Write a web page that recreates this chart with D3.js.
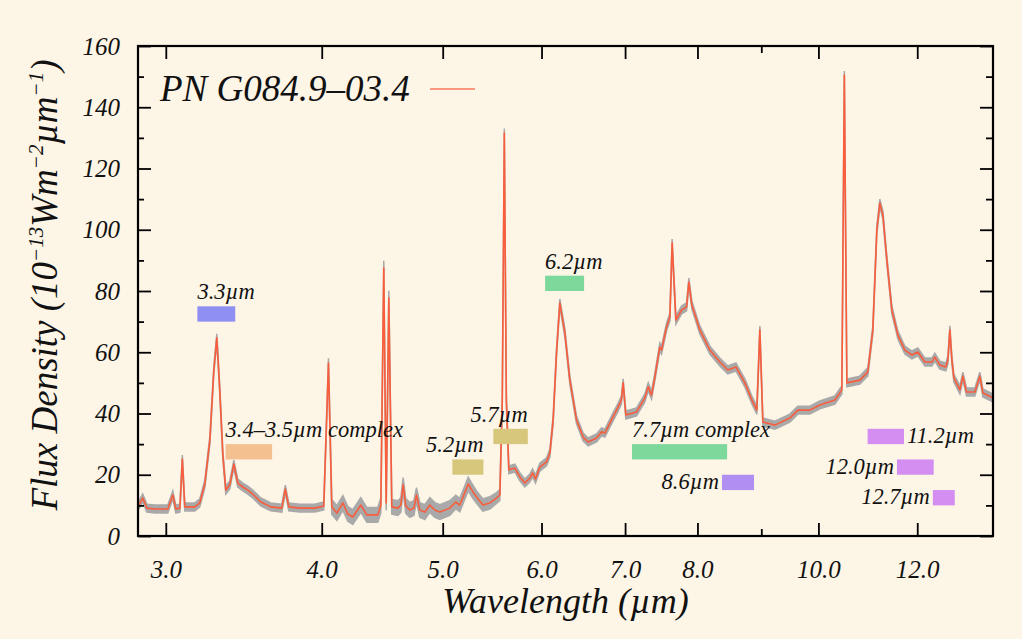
<!DOCTYPE html>
<html><head><meta charset="utf-8">
<script src="https://cdn.jsdelivr.net/npm/d3@7"></script>
<style>html,body{margin:0;padding:0;background:#fdf5e6;} svg{display:block;}</style>
</head><body><svg id="c" width="1022" height="639"></svg>
<script>
// ---------- data ----------
const wavelength = [
2.849,2.875,2.897,2.940,3.011,3.039,3.056,3.079,3.093,3.107,
3.165,3.194,3.224,3.254,3.278,3.296,3.314,3.333,3.351,3.376,
3.401,3.426,3.458,3.490,3.522,3.575,3.641,3.716,3.740,3.764,
3.841,3.949,4.015,4.050,4.075,4.113,4.159,4.197,4.236,4.299,
4.347,4.436,4.461,4.485,4.505,4.527,4.552,4.603,4.628,4.648,
4.671,4.706,4.741,4.764,4.793,4.838,4.883,4.928,4.974,5.066,
5.122,5.160,5.199,5.241,5.276,5.322,5.385,5.454,5.522,5.556,
5.581,5.602,5.623,5.649,5.712,5.765,5.818,5.872,5.902,5.934,
5.981,6.056,6.093,6.130,6.168,6.206,6.264,6.322,6.400,6.479,
6.539,6.641,6.703,6.744,6.827,6.911,6.952,6.975,7.010,7.150,
7.260,7.305,7.350,7.395,7.463,7.487,7.556,7.603,7.635,7.688,
7.769,7.841,7.874,7.918,8.035,8.185,8.337,8.461,8.588,8.731,
8.845,8.926,8.976,9.026,9.228,9.487,9.627,9.843,10.026,10.308,
10.442,10.490,10.539,10.794,10.955,11.056,11.138,11.200,11.263,11.346,
11.451,11.579,11.729,11.882,12.014,12.170,12.328,12.396,12.511,12.651,
12.698,12.745,12.792,12.839,12.983,13.054,13.143,13.346,13.469,13.545,
13.796];
const flux = [
9.5,12.4,9.1,8.8,8.8,13.4,8.8,9.1,25.1,9.5,
9.5,10.8,17.0,31.3,54.2,64.7,47.7,26.4,15.0,16.7,
23.5,17.3,16.0,15.0,13.7,11.1,9.5,9.1,15.3,9.5,
9.1,9.1,9.8,56.5,9.5,7.5,10.8,7.2,6.2,10.1,
6.9,6.9,10.1,87.5,10.8,77.7,9.5,9.1,10.1,16.7,
9.8,8.5,9.1,13.4,8.5,7.8,10.1,8.5,7.8,9.1,
11.1,10.1,13.4,17.0,15.0,12.7,10.1,10.8,12.4,13.4,
44.4,131.6,44.4,21.6,22.2,19.3,17.3,18.9,20.6,18.6,
22.5,24.2,27.1,37.9,59.8,76.1,66.3,50.9,37.9,32.3,
30.7,32.0,34.0,33.6,37.9,42.1,44.4,50.0,39.5,40.5,
45.1,48.7,46.0,51.9,61.7,60.7,68.2,71.5,95.7,70.5,
73.8,74.8,82.9,75.4,67.3,60.7,56.8,54.2,55.2,50.0,
44.4,41.1,67.3,37.2,36.2,38.5,41.1,41.1,42.8,44.4,
47.7,150.5,50.0,50.9,53.6,67.3,99.9,108.7,104.8,90.1,
73.8,65.6,60.7,59.1,60.1,56.8,56.8,58.4,55.8,55.2,
57.5,67.3,57.5,51.6,47.7,52.2,47.0,47.0,52.2,46.7,
45.1];
const fluxErr = [
1.3,1.3,1.3,1.3,1.3,1.3,1.3,1.3,1.3,1.3,
1.3,1.3,1.3,1.3,1.3,1.3,1.3,1.3,1.3,1.3,
1.3,1.3,1.3,1.3,1.3,1.3,1.3,1.3,1.3,1.3,
1.3,1.3,1.3,1.5,2.4,2.4,2.4,2.4,2.4,2.4,
2.4,2.4,2.4,2.4,2.4,2.4,2.4,2.4,2.4,2.4,
2.4,2.4,2.4,2.4,2.4,2.4,2.4,2.4,2.4,2.4,
2.2,2.2,2.2,2.2,2.2,2.0,2.0,2.0,1.8,1.8,
1.5,1.5,1.5,1.3,1.3,1.3,1.3,1.3,1.3,1.3,
1.3,1.3,1.3,1.3,1.3,1.3,1.3,1.3,1.3,1.3,
1.3,1.3,1.3,1.3,1.3,1.3,1.3,1.3,1.3,1.3,
1.3,1.3,1.3,1.3,1.3,1.3,1.3,1.3,1.3,1.3,
1.3,1.3,1.3,1.3,1.3,1.3,1.3,1.3,1.3,1.3,
1.3,1.3,1.3,1.3,1.3,1.3,1.3,1.3,1.3,1.3,
1.3,1.3,1.3,1.3,1.3,1.3,1.3,1.3,1.3,1.3,
1.3,1.3,1.3,1.3,1.3,1.3,1.3,1.3,1.3,1.3,
1.3,1.3,1.3,1.3,1.3,1.3,1.3,1.3,1.3,1.3,
1.3];

const xTicks = [3, 4, 5, 6, 7, 8, 10, 12];
const xMinorTicks = [9];
const yTicks = [0, 20, 40, 60, 80, 100, 120, 140, 160];
const yMinorTicks = [10, 30, 50, 70, 90, 110, 130, 150];

const bandNames  = ["3.3µm","3.4–3.5µm complex","5.2µm","5.7µm","6.2µm","7.7µm complex","8.6µm","11.2µm","12.0µm","12.7µm"];
const bandFrom   = [3.18, 3.35, 5.09, 5.49, 6.04, 7.09, 8.37, 10.95, 11.56, 12.35];
const bandTo     = [3.41, 3.65, 5.39, 5.85, 6.49, 8.45, 8.88, 11.71, 12.37, 12.86];
const bandLow    = [70, 25, 20, 30, 80, 25, 15, 30, 20, 10];
const bandHigh   = [75, 30, 25, 35, 85, 30, 20, 35, 25, 15];
const bandColors = ["#8f8ff3","#f5c08f","#d6c77c","#d6c77c","#7dd89c","#7dd89c","#b18ff2","#d48ef2","#d48ef2","#d48ef2"];
const bandLabelSide = ["top-start","top-start","top-end","top-end","top-start","top-start","left","right","left","left"];

const seriesName = "PN G084.9–03.4";

// ---------- chart ----------
const W = 1022, H = 639;
const m = {l:138, r:29, t:46, b:103};
const FONT = "'Liberation Serif', 'Times New Roman', serif";
const LINE = "#fa5d3c";

const svg = d3.select("#c");
svg.append("rect").attr("width", W).attr("height", H).attr("fill", "#fdf5e6");

const x = d3.scaleLog().domain([2.85, 13.8]).range([m.l, W - m.r]);
const y = d3.scaleLinear().domain([0, 160]).range([H - m.b, m.t]);

const data = wavelength.map((w, i) => ({w, f: flux[i], e: fluxErr[i]}));

svg.append("clipPath").attr("id", "clip").append("rect")
  .attr("x", m.l).attr("y", m.t).attr("width", W - m.l - m.r).attr("height", H - m.t - m.b);

const plot = svg.append("g").attr("clip-path", "url(#clip)");

plot.append("path").datum(data)
  .attr("fill", "#a9a9a9").attr("stroke", "#a9a9a9").attr("stroke-width", 1.5)
  .attr("d", d3.area().x(d => x(d.w)).y0(d => y(d.f - d.e)).y1(d => y(d.f + d.e)));

plot.append("path").datum(data)
  .attr("fill", "none").attr("stroke", LINE).attr("stroke-width", 1.6)
  .attr("stroke-linejoin", "round")
  .attr("d", d3.line().x(d => x(d.w)).y(d => y(d.f)));

// bands
const bands = bandNames.map((n, i) => ({n, x0: bandFrom[i], x1: bandTo[i], lo: bandLow[i], hi: bandHigh[i], c: bandColors[i], side: bandLabelSide[i]}));
const bg = svg.append("g");
bg.selectAll("rect").data(bands).join("rect")
  .attr("x", d => x(d.x0)).attr("width", d => x(d.x1) - x(d.x0))
  .attr("y", d => y(d.hi)).attr("height", d => y(d.lo) - y(d.hi))
  .attr("fill", d => d.c);
bg.selectAll("text").data(bands).join("text")
  .attr("font-family", FONT).attr("font-style", "italic").attr("font-size", 22.5).attr("fill", "#111")
  .attr("x", d => d.side === "top-start" ? x(d.x0) : d.side === "top-end" ? x(d.x1) : d.side === "left" ? x(d.x0) - 3 : x(d.x1) + 3)
  .attr("y", d => (d.side === "top-start" || d.side === "top-end") ? y(d.hi) - 7 : y(d.lo) - 1)
  .attr("text-anchor", d => (d.side === "top-end" || d.side === "left") ? "end" : "start")
  .text(d => d.n);

// axes
function styleAxis(g) {
  g.select(".domain").remove();
  g.selectAll(".tick line").attr("stroke", "#000").attr("stroke-width", 1.8);
  g.selectAll(".tick text").attr("font-family", FONT).attr("font-style", "italic").attr("font-size", 25).attr("fill", "#111");
}
svg.append("g").attr("transform", `translate(0,${H - m.b})`)
  .call(d3.axisBottom(x).tickValues(xTicks).tickFormat(d3.format(".1f")).tickSizeInner(-13).tickSizeOuter(0).tickPadding(24))
  .call(styleAxis);
svg.append("g").attr("transform", `translate(0,${H - m.b})`)
  .call(d3.axisBottom(x).tickValues(xMinorTicks).tickFormat("").tickSizeInner(-7).tickSizeOuter(0))
  .call(styleAxis);
svg.append("g").attr("transform", `translate(0,${m.t})`)
  .call(d3.axisTop(x).tickValues(xTicks).tickFormat("").tickSizeInner(-13).tickSizeOuter(0))
  .call(styleAxis);
svg.append("g").attr("transform", `translate(0,${m.t})`)
  .call(d3.axisTop(x).tickValues(xMinorTicks).tickFormat("").tickSizeInner(-7).tickSizeOuter(0))
  .call(styleAxis);
svg.append("g").attr("transform", `translate(${m.l},0)`)
  .call(d3.axisLeft(y).tickValues(yTicks).tickFormat(d3.format("d")).tickSizeInner(-13).tickSizeOuter(0).tickPadding(18))
  .call(styleAxis);
svg.append("g").attr("transform", `translate(${m.l},0)`)
  .call(d3.axisLeft(y).tickValues(yMinorTicks).tickFormat("").tickSizeInner(-6).tickSizeOuter(0))
  .call(styleAxis);
svg.append("g").attr("transform", `translate(${W - m.r},0)`)
  .call(d3.axisRight(y).tickValues(yTicks).tickFormat("").tickSizeInner(-13).tickSizeOuter(0))
  .call(styleAxis);
svg.append("g").attr("transform", `translate(${W - m.r},0)`)
  .call(d3.axisRight(y).tickValues(yMinorTicks).tickFormat("").tickSizeInner(-7).tickSizeOuter(0))
  .call(styleAxis);

svg.append("rect").attr("x", m.l).attr("y", m.t).attr("width", W - m.l - m.r).attr("height", H - m.t - m.b)
  .attr("fill", "none").attr("stroke", "#000").attr("stroke-width", 2.2);

// titles
svg.append("text").attr("x", (m.l + W - m.r) / 2).attr("y", 613)
  .attr("text-anchor", "middle").attr("font-family", FONT).attr("font-style", "italic").attr("font-size", 36).attr("fill", "#111")
  .text("Wavelength (µm)");

const yt = svg.append("text").attr("transform", `translate(57,${(m.t + H - m.b) / 2 - 6}) rotate(-90)`)
  .attr("text-anchor", "middle").attr("font-family", FONT).attr("font-style", "italic").attr("font-size", 37).attr("fill", "#111");
yt.append("tspan").text("Flux Density (10");
yt.append("tspan").attr("font-size", 21).attr("dy", -14).text("−13");
yt.append("tspan").attr("dy", 14).text("Wm");
yt.append("tspan").attr("font-size", 21).attr("dy", -14).text("−2");
yt.append("tspan").attr("dy", 14).text("µm");
yt.append("tspan").attr("font-size", 21).attr("dy", -14).text("−1");
yt.append("tspan").attr("dy", 14).text(")");

// legend
svg.append("text").attr("x", 160).attr("y", 101)
  .attr("font-family", FONT).attr("font-style", "italic").attr("font-size", 37).attr("fill", "#111")
  .text(seriesName);
svg.append("line").attr("x1", 430).attr("x2", 475).attr("y1", 89).attr("y2", 89)
  .attr("stroke", LINE).attr("stroke-width", 1.4).attr("opacity", 0.8);
</script>
</body></html>
